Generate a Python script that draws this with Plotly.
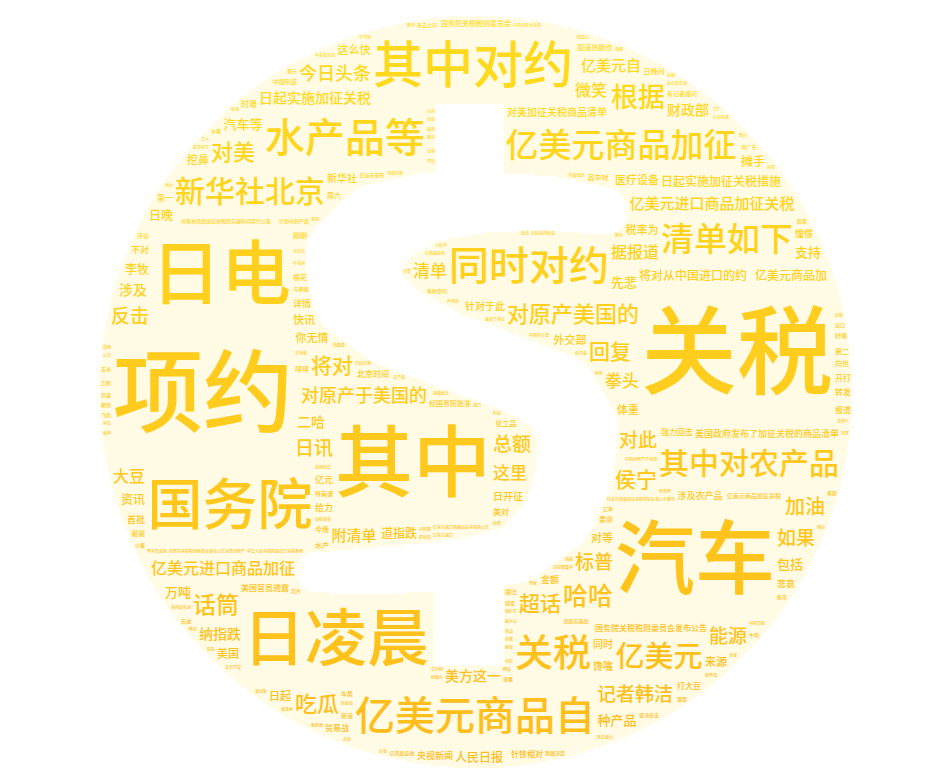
import numpy as np
import plotly.graph_objects as go

WIDTH, HEIGHT = 936, 771
FONT = "Noto Sans CJK SC"

# word frequencies (bigger word = more frequent)
top_words = ["关税", "项约", "汽车", "其中", "日电", "日凌晨", "国务院", "其中对约",
             "亿美元商品自", "水产品等", "同时对约", "关税", "清单如下", "亿美元商品加征",
             "其中对农产品", "新华社北京", "亿美元", "亿美元进口商品加征关税",
             "亿美元进口商品加征", "对原产美国的", "对原产于美国的", "根据",
             "日起实施加征关税", "哈哈", "记者韩洁", "将对从中国进口的约", "今日头条",
             "话筒", "日起实施加征关税措施", "对美", "吃瓜", "回复", "将对", "超话",
             "侯宁", "亿美元自", "加油"]
top_counts = [96, 90, 80, 78, 70, 62, 55, 50,
              44, 40, 40, 38, 33, 33,
              30, 30, 29, 28,
              28, 28, 27, 27,
              25, 25, 24, 24, 23,
              23, 22, 22, 22, 21, 21, 21,
              21, 20, 20]

words_19 = ["日讯", "能源", "据报道", "附清单", "美方这一", "标普", "纳指跌", "总额",
            "对此", "反击", "财政部", "如果"]
words_17 = ["美国政府发布了加征关税的商品清单", "对美加征关税商品清单", "人民日报", "这里",
            "种产品", "清单", "拳头", "亿美元商品加", "汽车等", "微笑", "大豆"]
words_14 = ["道指跌", "医疗设备", "针对于此", "二哈", "外交部", "涉及农产品",
            "国务院关税税则委员会发布公告", "国务院关税税则委员会", "涉及", "税率为",
            "这么快", "你无情", "万吨", "包括", "亿美元商品加征关税",
            "对其余商品加征关税的实施时间另行公告", "亿美元进口商品加征关税的公告"]
words_13 = ["新华社", "央视新闻", "日开征", "先悲", "支持", "摊手", "资讯", "针锋相对",
            "李牧", "日晚", "快讯", "美国", "美国官员透露", "股道热肠也", "北京时间",
            "经国务院批准", "体重", "强力回击", "日起", "对等", "挖鼻", "来源", "贸易战",
            "计划中的产品", "有记者提问", "馋嘴", "国务院关税税则委员会发布公告决定对原产",
            "国务院关税税则委员会决定对原产于美国的"]
words_12 = ["打大豆", "同时", "亿元", "亿美元商品加征关税开始征求公众意见", "中国制造",
            "日当天宣布", "亿商品征收", "中华人民共和国进出口关税条例", "给力", "金额",
            "首批", "化工品", "憧憬", "等法律法规和国际法基本原则", "其中对", "不对",
            "日起实施加"]
words_11 = ["日晚间", "悲哀", "来去之间", "决定对原产于美国的中华人民共和国对外贸易法",
            "详情", "亿美元的中国输美商品加征", "中国决定对美国", "开打", "美对",
            "亿商品征税", "转发", "时艰", "美国宣布对", "包括美国商会",
            "国务院关税税则委员会关于对原产于美国", "特美谓", "反击贸易战", "第一",
            "我国决定", "有财空间", "中国对原产于美国", "亿美元进口", "坚决反击", "报道",
            "李子奇是我"]
words_9 = ["新华视点", "财广东", "水产", "外交部发言人耿爽回应", "亿人口的市场", "周六",
           "亿美元中国商品加征", "农产品和汽车", "礼尚往来", "深夜反击", "同等力度的征税措施",
           "中国日报", "今晚", "呼呼", "特朗普总统已决定批准对约", "中美贸易战",
           "美方发表声明称", "中国外交部", "要命", "第二", "刚刚", "这招稳重中", "与美国",
           "美国对华", "发表了博文", "朗温山", "岁身高", "向也", "的表态"]
words_7 = ["全美零售商联合会", "加税清单", "谢谢", "棉花", "世界杯", "叶美国", "财联社",
           "美国多个行业", "亿美元商品征收", "日凌晨决定", "文史学堂", "好嘞",
           "批评美国政府将对中国", "河南日报", "主要是农产品", "声明说", "中国赞", "提比",
           "指数跌", "日起实施", "分享自", "关税的做法", "河南好网民", "加征关税清单包括",
           "特雷锦若", "夏尝老王", "美国宣布加征关税的中国商品清单", "商务部回应",
           "美国时间", "商品清单", "铁矿石", "不甘示弱", "中方有力回击", "白宫宣布对",
           "车势", "新浪", "评论"]
words_5 = ["猪肉", "牛肉", "大豆进口", "农产品", "葡萄酒", "威士忌", "坚果", "水果", "蔬菜",
           "玉米", "小麦", "高粱", "烟草", "乙醇", "汽车零部件", "医疗器械", "化学品", "石油",
           "天然气", "煤炭", "飞机", "芯片", "半导体", "关税壁垒", "贸易保护主义", "单边主义",
           "反制措施", "对等报复", "商务部", "发改委", "海关总署", "外交部发言人", "华尔街",
           "道琼斯", "纳斯达克", "股市", "美股", "汇率", "人民币", "美元", "出口", "进口",
           "贸易逆差", "谈判", "磋商", "协议", "制裁", "征税", "清单公布", "公告", "财经",
           "评论员", "专家", "分析", "观点", "回应", "表态", "强硬", "底线", "奉陪到底",
           "不怕", "坚定", "维护", "利益", "消费者", "企业", "工厂", "工人", "农民", "市场",
           "供应链", "产业链", "全球", "世贸组织", "规则", "多边", "自由贸易", "影响", "冲击",
           "损失", "代价", "后果", "应对", "以牙还牙", "同等规模", "立即生效", "即日起",
           "另行公告", "征求意见", "听证会", "特朗普", "白宫", "美国政府", "中国政府",
           "关税税则委员会", "新华社电", "央视", "人民网", "环球时报", "澎湃新闻", "财新",
           "第一财经", "经济日报", "光明日报", "中新网", "凤凰网", "网易", "腾讯", "微博",
           "网友", "点赞", "评论区", "热搜", "话题", "围观", "加油中国", "厉害了", "支持国家",
           "挺住", "必胜", "团结", "冷静", "理性", "淡定", "无语", "哈哈哈", "笑哭",
           "吃瓜群众", "中美经贸", "贸易摩擦", "经贸关系", "美方挑起", "中方决定", "加征清单",
           "税则", "原产地", "进口商品", "输美商品", "美国商会", "零售商", "农场主", "豆农"]

# ---- mask: round coin with a white dollar sign cut out ----
CX, CY, R = 468, 384, 376
S_PATH = [(596, 203, 24), (540, 195, 27), (480, 194, 30), (420, 199, 35),
          (370, 218, 43), (345, 250, 48), (350, 287, 46), (385, 317, 42),
          (440, 342, 38), (500, 364, 38), (550, 386, 40), (570, 420, 40),
          (567, 465, 39), (550, 510, 35), (510, 546, 29), (455, 557, 26),
          (395, 561, 24), (335, 564, 22), (308, 564, 20)]
BARS = [(428, 496, 96, 205), (426, 496, 555, 658)]

GRID = 2
gw, gh = WIDTH // GRID, HEIGHT // GRID
yy, xx = np.mgrid[0:gh, 0:gw]
px = xx * GRID + GRID / 2
py = yy * GRID + GRID / 2
inside = (px - CX) ** 2 + (py - CY) ** 2 <= R ** 2
dollar = np.zeros_like(inside)
for (x0, y0, h0), (x1, y1, h1) in zip(S_PATH[:-1], S_PATH[1:]):
    dx, dy = x1 - x0, y1 - y0
    t = np.clip(((px - x0) * dx + (py - y0) * dy) / (dx * dx + dy * dy), 0, 1)
    d = np.hypot(px - (x0 + t * dx), py - (y0 + t * dy))
    dollar |= d <= h0 + t * (h1 - h0)
for x0, x1, y0, y1 in BARS:
    dollar |= (px >= x0) & (px <= x1) & (py >= y0) & (py <= y1)
free = inside & ~dollar

# ---- word list ----
words = list(top_words)
counts = list(top_counts)
for lst, c in [(words_19, 19), (words_17, 17), (words_14, 14), (words_13, 13),
               (words_12, 12), (words_11, 11), (words_9, 9), (words_7, 7), (words_5, 5)]:
    words += lst
    counts += [c] * len(lst)

order = sorted(range(len(words)), key=lambda i: -counts[i])
max_count = max(counts)
FONT_MAX = 96
MIN_FONT = 4
LINE = 1.42  # text box height in em, used for collisions

# ---- simple word cloud placement on the mask ----
rng = np.random.default_rng(11)
occ = (~free).astype(np.int32)
out_x, out_y, out_t, out_s = [], [], [], []
for i in order:
    word = words[i]
    fs = int(round(FONT_MAX * counts[i] / max_count))
    ii = np.zeros((gh + 1, gw + 1), np.int32)
    ii[1:, 1:] = occ.cumsum(0).cumsum(1)
    while fs >= MIN_FONT:
        w = int(np.ceil(len(word) * fs / GRID)) + 1
        h = int(np.ceil(LINE * fs / GRID)) + 1
        if w < gw and h < gh:
            win = ii[h:, w:] - ii[:-h, w:] - ii[h:, :-w] + ii[:-h, :-w]
            ok = np.flatnonzero(win == 0)
            if ok.size:
                k = ok[rng.integers(ok.size)]
                r, c = divmod(int(k), win.shape[1])
                occ[r:r + h, c:c + w] = 1
                out_x.append((c + w / 2) * GRID)
                out_y.append((r + h / 2) * GRID + 0.06 * fs)
                out_t.append(word)
                out_s.append(fs)
                break
        fs -= 1


def gold(y):
    t = min(max(y / HEIGHT, 0), 1)
    return "rgb(255,%d,%d)" % (int(220 - 32 * t), int(30 - 2 * t))


colors = [gold(y) for y in out_y]

fig = go.Figure()
fig.add_trace(go.Heatmap(
    x=px[0], y=py[:, 0], z=free.astype(int),
    colorscale=[[0, "rgba(255,255,255,0)"], [1, "#FFFBE4"]],
    showscale=False, hoverinfo="skip", zsmooth=False,
))
fig.add_trace(go.Scatter(
    x=out_x, y=out_y, text=out_t, mode="text",
    textposition="middle center",
    textfont=dict(family=FONT, size=out_s, color=colors, weight=500),
    hoverinfo="skip", cliponaxis=False,
))
fig.update_layout(
    width=WIDTH, height=HEIGHT,
    margin=dict(l=0, r=0, t=0, b=0),
    paper_bgcolor="white", plot_bgcolor="white",
    showlegend=False,
    xaxis=dict(range=[0, WIDTH], visible=False, fixedrange=True),
    yaxis=dict(range=[HEIGHT, 0], visible=False, fixedrange=True),
)
fig.write_html("out.html")
